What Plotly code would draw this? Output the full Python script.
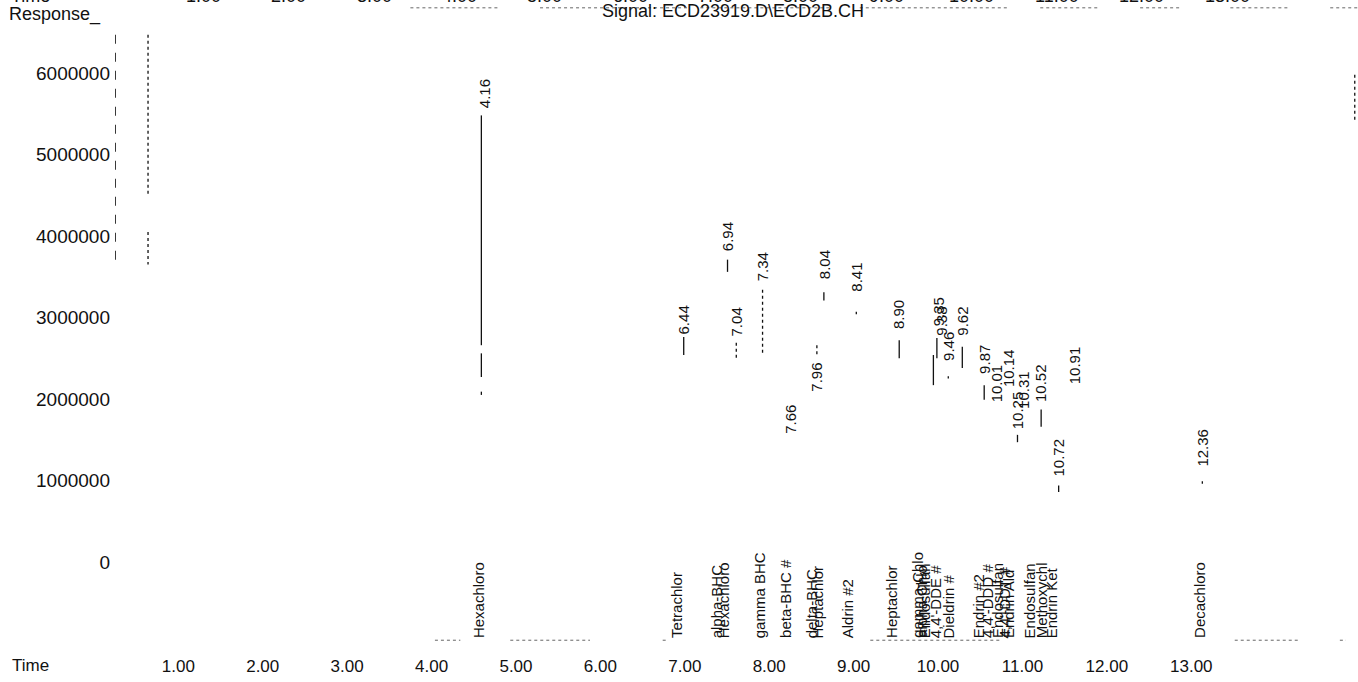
import plotly.graph_objects as go

# ---------------- data ----------------
# retention-time labels (minutes) and response at the label foot
peak_labels = ["4.16", "6.44", "6.94", "7.04", "7.34", "7.66", "7.96", "8.04", "8.41",
               "8.90", "9.35", "9.38", "9.46", "9.62", "9.87", "10.01", "10.14", "10.25",
               "10.31", "10.52", "10.72", "10.91", "12.36"]
peak_rt = [4.16, 6.44, 6.94, 7.04, 7.34, 7.66, 7.96, 8.04, 8.41,
           8.90, 9.35, 9.38, 9.46, 9.62, 9.87, 10.01, 10.14, 10.25,
           10.31, 10.52, 10.72, 10.91, 12.36]
peak_apex = [5550000, 2770000, 3790000, 2740000, 3420000, 1550000, 2070000, 3450000, 3290000,
             2830000, 2870000, 2750000, 2440000, 2750000, 2280000, 1940000, 2120000, 1610000,
             1850000, 1940000, 1020000, 2160000, 1150000]

# compound names printed along the baseline (expected retention times)
compound_names = ["Hexachloro", "Tetrachlor", "alpha-BHC", "Hexachloro", "gamma BHC",
                  "beta-BHC #", "delta-BHC", "Heptachlor", "Aldrin #2", "Heptachlor",
                  "gamma-Chlo", "alpha-Chlo", "Endosulfan", "4,4'-DDE #", "Dieldrin #",
                  "Endrin #2", "4,4'-DDD #", "Endosulfan", "4,4'-DDT #", "Endrin Ald",
                  "Endosulfan", "Methoxychl", "Endrin Ket", "Decachloro"]
name_rt = [4.09, 6.36, 6.81, 6.89, 7.30, 7.61, 7.90, 7.97, 8.31, 8.82,
           9.11, 9.16, 9.19, 9.31, 9.46, 9.80, 9.91, 10.02, 10.10, 10.14,
           10.39, 10.52, 10.64, 12.33]

# visible fragments of the chromatogram trace: (rt, top response, bottom response, style)
frag_rt = [0.325, 0.325, 4.13, 4.13, 4.13, 6.44, 6.94, 7.04, 7.34, 7.96, 8.04, 8.41,
           8.90, 9.33, 9.29, 9.46, 9.62, 9.87, 10.25, 10.52, 10.72, 12.36, 14.10, -0.05]
frag_top = [6470000, 4050000, 5480000, 2560000, 2090000, 2760000, 3710000, 2690000, 3340000,
            2660000, 3310000, 3070000, 2720000, 2750000, 2540000, 2280000, 2640000, 2170000,
            1560000, 1870000, 940000, 990000, 5980000, 6470000]
frag_bottom = [4500000, 3650000, 2660000, 2270000, 2050000, 2540000, 3560000, 2480000, 2560000,
               2540000, 3210000, 3040000, 2500000, 2500000, 2170000, 2250000, 2380000, 1990000,
               1470000, 1660000, 860000, 960000, 5420000, 3710000]
frag_style = ["dot", "dot", "solid", "solid", "solid", "solid", "solid", "dot", "dot",
              "dot", "solid", "dot", "solid", "solid", "solid", "dot", "solid", "solid",
              "solid", "solid", "solid", "dot", "dot", "dash"]

# faint scan residue: dotted rule at the top edge and baseline specks
top_rule_start = [3.32, 4.80, 6.63, 8.45, 10.51, 11.65, 12.68, 13.82]
top_rule_end = [4.34, 6.51, 8.11, 10.16, 11.19, 12.11, 13.36, 14.14]
base_start = [3.60, 4.46, 6.20, 8.57, 12.73, 13.93]
base_end = [3.89, 5.37, 6.26, 10.05, 13.47, 14.00]

# axes
y_ticks = [0, 1000000, 2000000, 3000000, 4000000, 5000000, 6000000]
y_ticktext = [str(v) for v in y_ticks]
time_ticks = [1, 2, 3, 4, 5, 6, 7, 8, 9, 10, 11, 12, 13]
time_ticktext = ["%.2f" % t for t in time_ticks]
top_cut_labels = ["1.00", "2.00", "3.00", "4.00", "5.00", "6.00", "7.00",
                  "8.00", "9.00", "10.00", "11.00", "12.00", "13.00"]

title_text = "Signal: ECD23919.D\\ECD2B.CH"

# ---------------- figure ----------------
FONT = "Liberation Sans, Arial, sans-serif"
BASE_V = -960000
TOP_V = 6800000

fig = go.Figure()


def seg_xy(xs0, xs1, ys0, ys1):
    X, Y = [], []
    for a, b, c, d in zip(xs0, xs1, ys0, ys1):
        X += [a, b, None]
        Y += [c, d, None]
    return X, Y


for style in ["solid", "dot", "dash"]:
    idx = [i for i, s in enumerate(frag_style) if s == style]
    X, Y = seg_xy([frag_rt[i] for i in idx], [frag_rt[i] for i in idx],
                  [frag_top[i] for i in idx], [frag_bottom[i] for i in idx])
    fig.add_trace(go.Scatter(x=X, y=Y, xaxis="x2", yaxis="y", mode="lines",
                             line=dict(color="#111", width=1.3, dash=style),
                             hoverinfo="skip", showlegend=False))

X, Y = seg_xy(top_rule_start, top_rule_end, [TOP_V] * len(top_rule_start), [TOP_V] * len(top_rule_end))
fig.add_trace(go.Scatter(x=X, y=Y, xaxis="x2", yaxis="y", mode="lines",
                         line=dict(color="#666", width=1, dash="dot"),
                         hoverinfo="skip", showlegend=False))
X, Y = seg_xy(base_start, base_end, [BASE_V] * len(base_start), [BASE_V] * len(base_end))
fig.add_trace(go.Scatter(x=X, y=Y, xaxis="x2", yaxis="y", mode="lines",
                         line=dict(color="#666", width=1, dash="dot"),
                         hoverinfo="skip", showlegend=False))

annotations = []
for lab, x, y in zip(peak_labels, peak_rt, peak_apex):
    annotations.append(dict(text=lab, x=x, y=y, xref="x2", yref="y", textangle=-90,
                            xanchor="center", yanchor="bottom", showarrow=False,
                            font=dict(family=FONT, size=15, color="#111")))
for name, x in zip(compound_names, name_rt):
    annotations.append(dict(text=name, x=x, y=BASE_V, xref="x2", yref="y", textangle=-90,
                            xanchor="center", yanchor="bottom", showarrow=False,
                            font=dict(family=FONT, size=15, color="#111")))

# cut-off labels of the previous page's time axis at the top edge
for i, lab in enumerate(top_cut_labels):
    annotations.append(dict(text=lab, x=0.29 + time_ticks[i] * 1.0104, y=0.987,
                            xref="x", yref="paper", xanchor="center", yanchor="bottom",
                            showarrow=False, font=dict(family=FONT, size=18, color="#111")))
annotations.append(dict(text="Time", x=-0.085, y=0.987, xref="paper", yref="paper",
                        xanchor="left", yanchor="bottom", showarrow=False,
                        font=dict(family=FONT, size=18, color="#111")))

annotations.append(dict(text="Response_", x=-0.087, y=0.977, xref="paper", yref="paper",
                        xanchor="left", yanchor="middle", showarrow=False,
                        font=dict(family=FONT, size=18, color="#111")))
annotations.append(dict(text=title_text, x=0.497, y=0.983, xref="paper", yref="paper",
                        xanchor="center", yanchor="middle", showarrow=False,
                        font=dict(family=FONT, size=18, color="#111")))
annotations.append(dict(text="Time", x=-0.0845, y=-0.0246, xref="paper", yref="paper",
                        xanchor="left", yanchor="middle", showarrow=False,
                        font=dict(family=FONT, size=17, color="#111")))

fig.update_layout(
    width=1358, height=682, autosize=False,
    margin=dict(l=115, r=0, t=0, b=32, pad=0),
    paper_bgcolor="white", plot_bgcolor="white",
    showlegend=False,
    font=dict(family=FONT, color="#111"),
    xaxis=dict(range=[0.250, 14.975], tickvals=time_ticks, ticktext=time_ticktext,
               showgrid=False, zeroline=False, showline=False, ticks="",
               tickfont=dict(family=FONT, size=17, color="#111"), ticklabelstandoff=4),
    xaxis2=dict(range=[-0.052, 14.137], overlaying="x", visible=False),
    yaxis=dict(range=[-1080000, 6896000], tickvals=y_ticks, ticktext=y_ticktext,
               showgrid=False, zeroline=False, showline=False, ticks="",
               tickfont=dict(family=FONT, size=19, color="#111"), ticklabelstandoff=4),
    annotations=annotations,
)

fig.write_html("out.html", config={"displayModeBar": False},
               post_script="document.body.style.margin='0';document.body.style.overflow='hidden';")
